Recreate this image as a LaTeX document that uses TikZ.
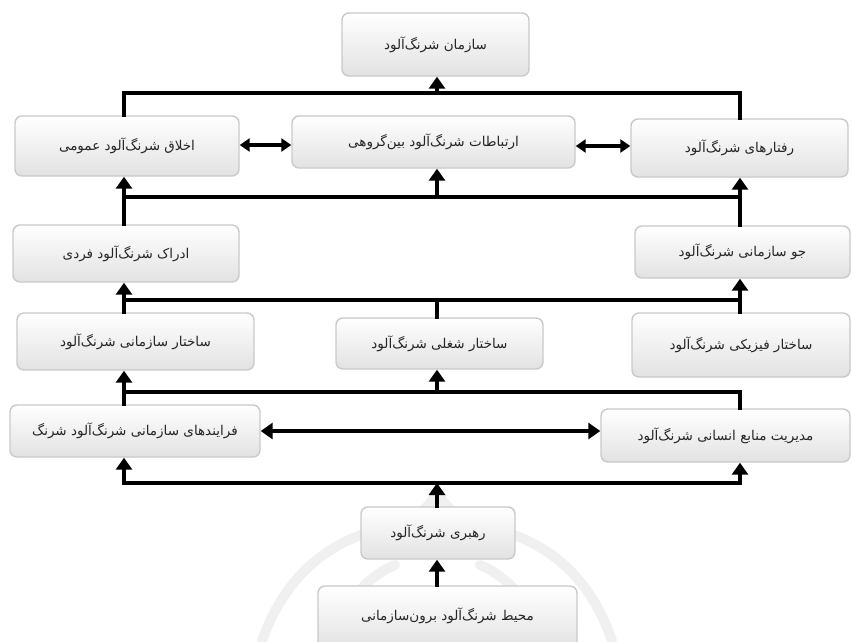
\documentclass[tikz,border=0pt]{standalone}
\usepackage{fontspec}
\newfontfamily\arabicfont[Script=Arabic]{DejaVu Sans}
\TeXXeTstate=1
\usetikzlibrary{arrows.meta,shadings}
\definecolor{boxline}{HTML}{C9C9C9}
\definecolor{boxbot}{HTML}{E2E2E2}
\definecolor{wm}{HTML}{F0F0F0}
\tikzset{
  box/.style={draw=boxline, line width=1.4pt, rounded corners=7pt,
    top color=white, bottom color=boxbot, inner sep=0pt,
    font=\arabicfont\fontsize{13.5}{15}\selectfont, text=black!85},
  conn/.style={line width=4pt, line cap=rect},
  upar/.style={conn, -{Triangle[length=12pt,width=16pt]}},
  dbl/.style={line width=3.5pt, {Triangle[length=10pt,width=13pt]}-{Triangle[length=10pt,width=13pt]}},
  bothar/.style={conn, {Triangle[length=12pt,width=16pt]}-{Triangle[length=12pt,width=16pt]}},
}
\newcommand{\rtl}[1]{\beginR #1\endR}
\begin{document}
\begin{tikzpicture}[x=1pt,y=-1pt]
\useasboundingbox (0,0) rectangle (852,641);
% faint watermark
\begin{scope}[wm, line width=10pt, line cap=round]
\draw (262,641) .. controls (285,575) and (330,540) .. (385,528);
\draw (385,528) .. controls (420,520) and (430,505) .. (437,492);
\draw (437,492) .. controls (445,505) and (455,520) .. (490,528);
\draw (490,528) .. controls (545,540) and (590,575) .. (612,641);
\draw (330,641) .. controls (345,600) and (370,575) .. (395,565);
\draw (545,641) .. controls (530,600) and (505,575) .. (480,565);
\end{scope}
% columns and buses
\coordinate (L) at (124,0);
\coordinate (C) at (437,0);
\coordinate (R) at (740,0);
\coordinate (b1) at (0,93);
\coordinate (b2) at (0,197);
\coordinate (b3) at (0,300);
\coordinate (b4) at (0,392);
\coordinate (b5) at (0,483);
\coordinate (d1) at (0,145);
\coordinate (d2) at (0,146);
% boxes
\node[box, minimum width=187pt, minimum height=63pt] (top) at (435.5,44.5) {\rtl{سازمان شرنگ‌آلود}};
\node[box, minimum width=224pt, minimum height=60pt] (akhlagh) at (127,146) {\rtl{اخلاق شرنگ‌آلود عمومی}};
\node[box, minimum width=283pt, minimum height=52pt] (ertebat) at (433.5,142) {\rtl{ارتباطات شرنگ‌آلود بین‌گروهی}};
\node[box, minimum width=217pt, minimum height=58pt] (raftar) at (739.5,148) {\rtl{رفتارهای شرنگ‌آلود}};
\node[box, minimum width=226pt, minimum height=57pt] (edrak) at (126,253.5) {\rtl{ادراک شرنگ‌آلود فردی}};
\node[box, minimum width=215pt, minimum height=52pt] (jav) at (742.5,252) {\rtl{جو سازمانی شرنگ‌آلود}};
\node[box, minimum width=237pt, minimum height=57pt] (sazmani) at (135.5,341.5) {\rtl{ساختار سازمانی شرنگ‌آلود}};
\node[box, minimum width=207pt, minimum height=51pt] (shoghli) at (439.5,343.5) {\rtl{ساختار شغلی شرنگ‌آلود}};
\node[box, minimum width=218pt, minimum height=64pt] (fiziki) at (741,345) {\rtl{ساختار فیزیکی شرنگ‌آلود}};
\node[box, minimum width=250pt, minimum height=52pt] (farayand) at (135,431) {\rtl{فرایندهای سازمانی شرنگ‌آلود شرنگ}};
\node[box, minimum width=249pt, minimum height=53pt] (modiriat) at (725.5,435.5) {\rtl{مدیریت منابع انسانی شرنگ‌آلود}};
\node[box, minimum width=154pt, minimum height=52pt] (rahbari) at (438,533) {\rtl{رهبری شرنگ‌آلود}};
\node[box, minimum width=259pt, minimum height=64pt] (mohit) at (447.5,618) {\raisebox{8pt}{\rtl{محیط شرنگ‌آلود برون‌سازمانی}}};
% bus 1
\draw[conn] (L |- akhlagh.north) -- (L |- b1) -- (R |- b1) -- (R |- raftar.north);
\draw[upar] (C |- b1) -- (top.south -| C);
% row 2 double arrows
\draw[dbl] (akhlagh.east |- d1) -- (ertebat.west |- d1);
\draw[dbl] (ertebat.east |- d2) -- (raftar.west |- d2);
% bus 2
\draw[upar] (L |- edrak.north) -- (L |- akhlagh.south);
\draw[upar] (R |- jav.north) -- (R |- raftar.south);
\draw[conn] (L |- b2) -- (R |- b2);
\draw[upar] (C |- b2) -- (C |- ertebat.south);
% bus 3
\draw[upar] (L |- sazmani.north) -- (L |- edrak.south);
\draw[upar] (R |- fiziki.north) -- (R |- jav.south);
\draw[conn] (L |- b3) -- (R |- b3);
\draw[conn] (C |- shoghli.north) -- (C |- b3);
% bus 4
\draw[upar] (L |- farayand.north) -- (L |- sazmani.south);
\draw[conn] (L |- b4) -- (R |- b4) -- (R |- modiriat.north);
\draw[upar] (C |- b4) -- (C |- shoghli.south);
% row 5 double arrow
\draw[bothar] (farayand.east) -- (modiriat.west |- farayand.east);
% bus 5
\draw[bothar] (L |- farayand.south) -- (L |- b5) -- (R |- b5) -- (R |- modiriat.south);
\draw[upar] (rahbari.north -| C) -- (C |- b5);
\draw[upar] (mohit.north -| C) -- (rahbari.south -| C);
\end{tikzpicture}
\end{document}
